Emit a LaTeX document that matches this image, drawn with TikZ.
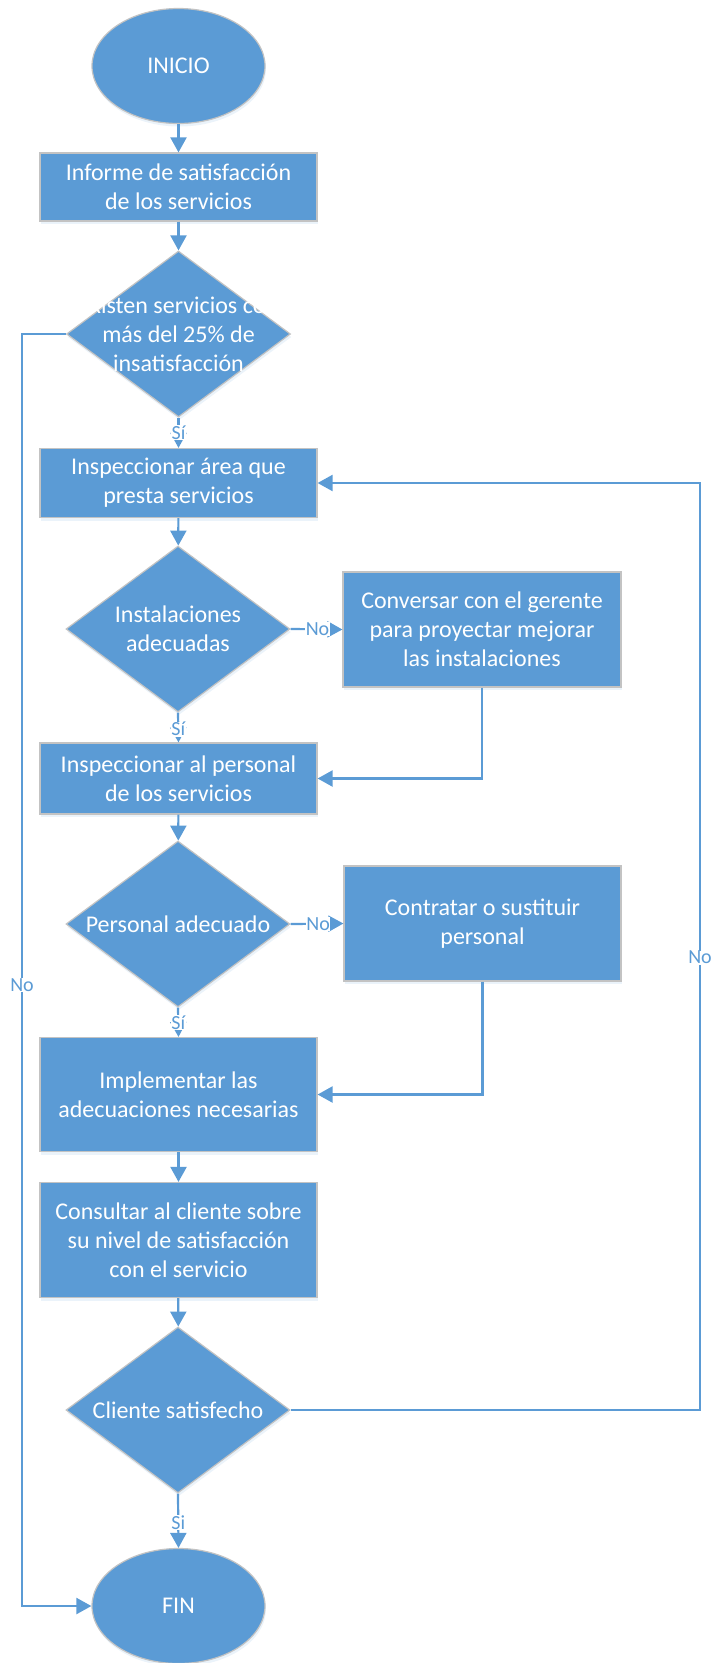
\documentclass[tikz,border=0pt]{standalone}
\usepackage{fontspec}
\setmainfont{Carlito}
\usetikzlibrary{shapes.geometric,arrows.meta,shadows}
\definecolor{flowblue}{HTML}{5B9BD5}
\definecolor{edgegrey}{HTML}{C3C3C3}
\begin{document}
\begin{tikzpicture}[x=1pt,y=-1pt,
  base/.style={fill=flowblue, draw=edgegrey, line width=1.2pt, text=white,
    font=\fontsize{24}{29}\selectfont, align=center, inner sep=0pt,
    drop shadow={shadow xshift=1pt, shadow yshift=-3pt, opacity=0.12, fill=flowblue}},
  term/.style={base, ellipse, minimum width=173pt, minimum height=115pt},
  procbox/.style={base, rectangle, minimum width=277pt},
  decision/.style={base, diamond, minimum width=224pt, minimum height=166pt},
  dtext/.style={text=white, align=center, font=\fontsize{24}{29}\selectfont, inner sep=0pt},
  flow/.style={draw=flowblue, line width=2.2pt, -{Triangle[length=15pt,width=16pt]}},
  lab/.style={fill=white, text=flowblue, font=\fontsize{20}{22}\selectfont, inner sep=0.6pt}]
\useasboundingbox (0,0) rectangle (712,1663);

% rails for the long return lines
\coordinate (leftrail) at (22,0);
\coordinate (rightrail) at (700,0);

% main column
\node[term] (inicio) at (178.5,66) {INICIO};
\node[procbox, minimum height=68pt] (informe) at (178.5,187) {Informe de satisfacción\\de los servicios};
\node[decision, label={[dtext]center:{Existen servicios con\\más del 25\% de\\insatisfacción}}] (existen) at (178.5,334) {};
\node[procbox, minimum height=69pt] (area) at (178.5,483) {Inspeccionar área que\\presta servicios};
\node[decision, label={[dtext]center:{Instalaciones\\adecuadas}}] (instal) at (178,629) {};
\node[procbox, minimum height=71pt] (personal) at (178.5,778.5) {Inspeccionar al personal\\de los servicios};
\node[decision, label={[dtext]center:{Personal adecuado}}] (padec) at (178,924) {};
\node[procbox, minimum height=114pt] (implem) at (178.5,1094.5) {Implementar las\\adecuaciones necesarias};
\node[procbox, minimum height=115pt] (consulta) at (178.5,1240) {Consultar al cliente sobre\\su nivel de satisfacción\\con el servicio};
\node[decision, label={[dtext]center:{Cliente satisfecho}}] (cliente) at (178,1410) {};
\node[term] (fin) at (178.5,1606) {FIN};

% side column
\node[procbox, minimum width=278pt, minimum height=115pt] (gerente) at (482,629.5) {Conversar con el gerente\\para proyectar mejorar\\las instalaciones};
\node[procbox, minimum height=115pt] (contratar) at (482.5,923.5) {Contratar o sustituir\\personal};

% connectors
\draw[flow] (inicio) -- (informe);
\draw[flow] (informe) -- (existen);
\draw[flow] (existen.south) -- node[lab]{Sí} (area.north);
\draw[flow] (existen.west) -- (existen.west -| leftrail) |- node[lab, pos=0.256]{No} (fin.west);
\draw[flow] (area) -- (instal);
\draw[flow] (instal.east) -- node[lab, pos=0.52]{No} (gerente.west);
\draw[flow] (instal.south) -- node[lab, pos=0.55]{Sí} (personal.north);
\draw[flow] (gerente.south) |- (personal.east);
\draw[flow] (personal) -- (padec);
\draw[flow] (padec.east) -- node[lab, pos=0.52]{No} (contratar.west);
\draw[flow] (padec.south) -- node[lab, pos=0.52]{Sí} (implem.north);
\draw[flow] (contratar.south) |- (implem.east);
\draw[flow] (implem) -- (consulta);
\draw[flow] (consulta) -- (cliente);
\draw[flow] (cliente.east) -- (cliente.east -| rightrail) |- node[lab, pos=0.244]{No} (area.east);
\draw[flow] (cliente.south) -- node[lab, pos=0.54]{Si} (fin.north);
\end{tikzpicture}
\end{document}
